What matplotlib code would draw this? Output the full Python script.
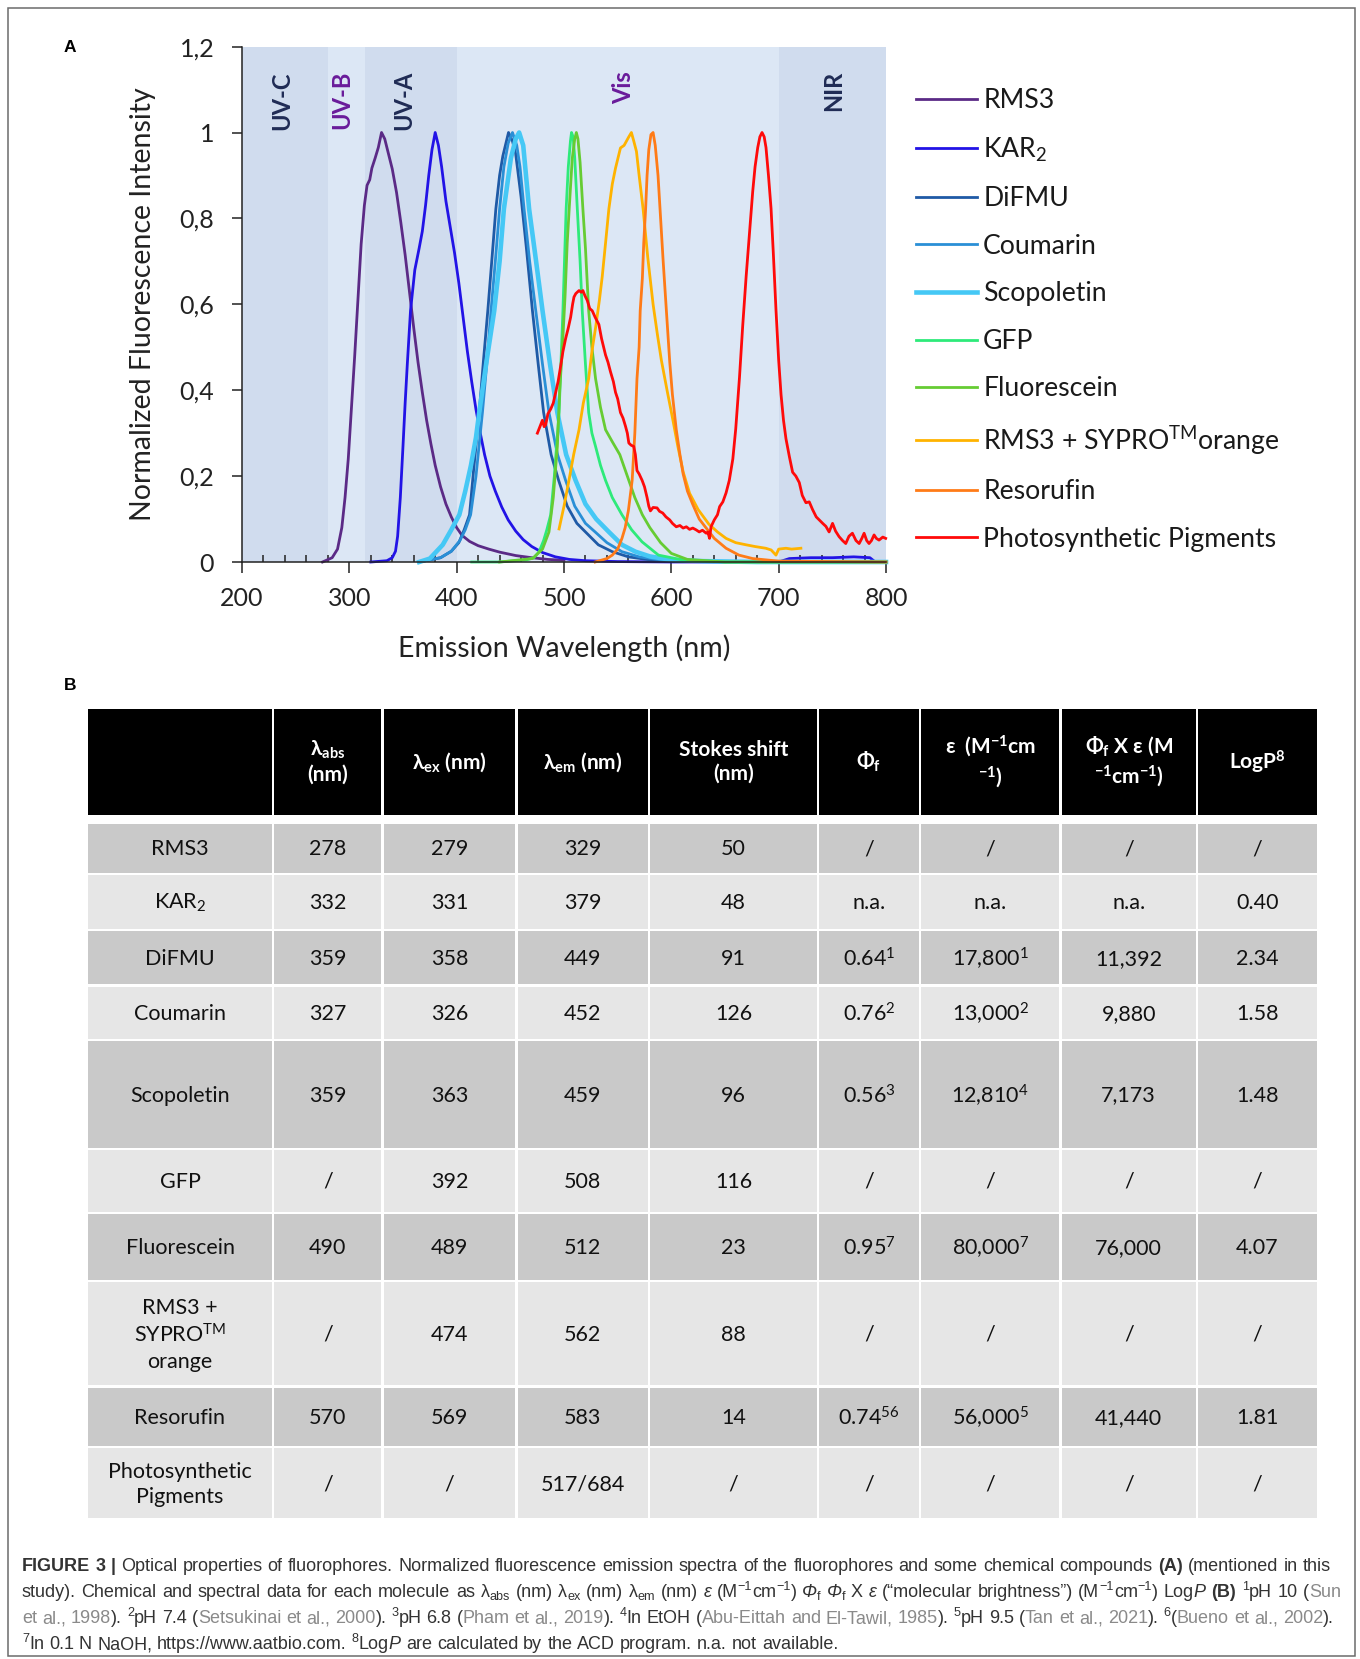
import matplotlib
matplotlib.use("Agg")
import matplotlib.pyplot as plt
from matplotlib.patches import Rectangle
from matplotlib.ticker import MultipleLocator

plt.rcParams['font.family'] = ['Lato', 'DejaVu Sans']
plt.rcParams['mathtext.fontset'] = 'custom'
plt.rcParams['mathtext.rm'] = 'Lato'
plt.rcParams['mathtext.it'] = 'Lato:italic'
plt.rcParams['mathtext.bf'] = 'Lato:bold'
plt.rcParams['mathtext.fallback'] = 'stixsans'

# ---------------- panel A data ----------------
rms3_nm = [275, 284, 289, 293, 296, 299, 302, 305, 308, 311, 314, 316.5, 319, 321, 324, 327, 330, 333, 336,
           340, 344, 348, 352, 356, 360, 364, 368, 372, 376, 380, 385, 390, 395, 400, 405, 412, 420, 430,
           440, 455, 470, 485, 500]
rms3_int = [0.0, 0.01, 0.03, 0.08, 0.15, 0.24, 0.36, 0.48, 0.61, 0.74, 0.83, 0.877, 0.89, 0.917, 0.94, 0.965,
            1.0, 0.985, 0.955, 0.915, 0.86, 0.79, 0.715, 0.63, 0.545, 0.465, 0.395, 0.33, 0.275, 0.225, 0.175,
            0.135, 0.105, 0.08, 0.062, 0.048, 0.038, 0.03, 0.023, 0.015, 0.01, 0.006, 0.004]

kar2_nm = [320, 335, 340, 343, 345, 347.5, 350, 352, 354, 357, 361, 365, 368, 371, 374, 377, 380, 383, 386,
           390, 394, 398, 402, 406, 410, 414, 418, 422, 426, 431, 436, 442, 448, 455, 462, 470, 480, 492,
           505, 520, 550, 600, 650, 700, 710, 730, 750, 770, 785, 790]
kar2_int = [0.0, 0.003, 0.01, 0.025, 0.06, 0.15, 0.27, 0.37, 0.46, 0.585, 0.68, 0.73, 0.77, 0.83, 0.9, 0.96,
            1.0, 0.97, 0.92, 0.84, 0.78, 0.72, 0.65, 0.57, 0.49, 0.42, 0.355, 0.3, 0.25, 0.2, 0.165, 0.128,
            0.098, 0.072, 0.052, 0.036, 0.022, 0.012, 0.006, 0.003, 0.001, 0.0, 0.0, 0.0, 0.008, 0.01, 0.01,
            0.012, 0.01, 0.0]

difmu_nm = [365, 385, 395, 402, 407, 412, 416, 421, 425, 429, 433, 436.5, 440, 443, 448.3, 452, 455, 460,
            465, 470.6, 476, 481, 488, 495, 503, 512, 520, 532, 545, 560, 580, 610, 650, 700, 800]
difmu_int = [0.0, 0.01, 0.025, 0.045, 0.075, 0.11, 0.22, 0.348, 0.47, 0.585, 0.71, 0.822, 0.9, 0.945, 1.0,
             0.98, 0.95, 0.85, 0.73, 0.585, 0.46, 0.348, 0.25, 0.19, 0.13, 0.09, 0.07, 0.04, 0.024, 0.012,
             0.005, 0.002, 0.0, 0.0, 0.0]

coum_nm = [365, 385, 395, 403, 408, 413, 418, 424, 428, 432, 436, 440, 444, 448, 452, 456, 459, 462.8, 468,
           473.7, 480, 486, 494, 501.5, 510, 520, 529, 540, 554, 570, 590, 620, 660, 720, 800]
coum_int = [0.0, 0.01, 0.025, 0.05, 0.075, 0.11, 0.2, 0.348, 0.46, 0.585, 0.7, 0.822, 0.92, 0.975, 1.0, 0.97,
            0.92, 0.822, 0.7, 0.585, 0.46, 0.348, 0.25, 0.19, 0.13, 0.09, 0.07, 0.045, 0.024, 0.012, 0.005,
            0.002, 0.0, 0.0, 0.0]

scop_nm = [365, 375, 387, 395, 402.5, 408, 413.3, 418, 421, 428, 435, 440, 444, 450.5, 455, 458.2, 462, 467.5,
           474, 480, 487, 493.8, 502, 510.8, 520, 530, 541.8, 554, 566.6, 580, 600, 630, 680, 750, 800]
scop_int = [0.0, 0.008, 0.04, 0.075, 0.11, 0.165, 0.225, 0.29, 0.348, 0.47, 0.585, 0.7, 0.822, 0.94, 0.985,
            1.0, 0.97, 0.822, 0.7, 0.585, 0.46, 0.348, 0.25, 0.19, 0.135, 0.1, 0.07, 0.04, 0.024, 0.013,
            0.005, 0.002, 0.0, 0.0, 0.0]

gfp_nm = [414, 440, 465, 472, 476.8, 481, 484, 487.6, 491, 495.4, 499, 502, 504, 506, 507, 508.5, 510, 512.4,
          515, 517, 520, 523, 526, 529.4, 534, 538.7, 545, 554, 563, 572.7, 588, 610, 650, 700, 800]
gfp_int = [0.0, 0.0, 0.005, 0.01, 0.024, 0.05, 0.075, 0.11, 0.2, 0.348, 0.585, 0.822, 0.92, 0.98, 1.0, 0.99,
           0.94, 0.822, 0.7, 0.585, 0.46, 0.348, 0.3, 0.269, 0.225, 0.19, 0.15, 0.11, 0.075, 0.047, 0.016,
           0.005, 0.0, 0.0, 0.0]

fluo_nm = [440, 470.6, 480, 486, 490, 493.8, 496, 498.5, 501, 503, 505.5, 507.7, 510, 511.5, 513, 515, 517.6,
           520, 523, 526, 529.4, 534, 538.7, 545, 552, 559, 566, 573, 580, 590, 600, 615, 650, 700, 800]
fluo_int = [0.0, 0.008, 0.03, 0.07, 0.15, 0.269, 0.4, 0.5, 0.62, 0.743, 0.85, 0.94, 0.985, 1.0, 0.985, 0.93,
            0.822, 0.73, 0.585, 0.5, 0.427, 0.36, 0.308, 0.28, 0.25, 0.2, 0.15, 0.11, 0.08, 0.045, 0.02,
            0.006, 0.0, 0.0, 0.0]

sypro_nm = [495.4, 500, 504.6, 509, 514, 518, 523, 526, 529.4, 533, 535.6, 539, 541.8, 545, 548, 552.6, 556,
            560.4, 562.8, 565, 567.5, 570, 573.7, 578, 583, 587, 590.7, 596, 601.5, 606, 611, 617, 625, 635,
            643, 651, 660, 669.7, 678, 688, 693, 697.5, 700, 706.8, 712, 720.7]
sypro_int = [0.077, 0.13, 0.19, 0.25, 0.308, 0.37, 0.427, 0.49, 0.545, 0.61, 0.664, 0.75, 0.822, 0.88, 0.917,
             0.964, 0.97, 0.99, 1.0, 0.98, 0.956, 0.9, 0.822, 0.71, 0.6, 0.53, 0.47, 0.4, 0.33, 0.27, 0.21,
             0.16, 0.122, 0.088, 0.07, 0.055, 0.045, 0.04, 0.036, 0.032, 0.028, 0.016, 0.03, 0.032, 0.03, 0.032]

reso_nm = [529, 540, 545, 550, 554, 557, 560, 563.5, 566, 568, 570, 571, 573, 574.3, 576, 577.4, 579, 581,
           583, 585, 587.6, 590, 592.3, 595, 598.5, 601, 604.6, 608, 611, 615, 620, 626, 632.5, 640, 651,
           663, 675.8, 700, 800]
reso_int = [0.0, 0.008, 0.016, 0.03, 0.055, 0.08, 0.12, 0.19, 0.3, 0.427, 0.5, 0.585, 0.66, 0.743, 0.82, 0.9,
            0.96, 0.995, 1.0, 0.97, 0.9, 0.8, 0.704, 0.6, 0.466, 0.39, 0.308, 0.25, 0.205, 0.165, 0.134, 0.1,
            0.079, 0.055, 0.032, 0.016, 0.008, 0.002, 0.0]

pig_nm = [475.2, 477.5, 479.9, 481.5, 483, 485, 487.6, 490, 492.3, 494.5, 497, 499, 501.5, 504, 506.2, 508,
          509.3, 511, 514, 516, 517.6, 519.5, 521.7, 524, 526.3, 529, 532.5, 535, 538.7, 541, 543.3, 546, 548,
          550, 552.6, 555, 557.3, 559, 560.4, 562.5, 565, 566.5, 568, 570, 572.8, 575, 577.4, 579, 580.5, 583,
          586.7, 589, 592, 595, 598.5, 601, 604.6, 608, 611, 614, 617, 620, 623, 626, 629, 632.5, 634, 635.6,
          637, 640, 643, 645, 648, 651, 654, 657.3, 660, 663.5, 666.5, 669.7, 673, 675.8, 678, 680.5, 682.5,
          684.5, 686.5, 688.2, 690.5, 692.9, 695, 697.5, 700, 702.2, 704.5, 706.8, 710, 713, 716, 719.2, 722,
          725.4, 728.5, 731.6, 735, 737.8, 741, 744, 747, 750.2, 753, 756.3, 759.5, 762.5, 765.5, 768.7, 772,
          775, 777.5, 779.6, 782, 784.2, 786.5, 788.9, 791, 793.5, 797, 799.7]
pig_int = [0.30, 0.315, 0.33, 0.315, 0.32, 0.345, 0.356, 0.37, 0.395, 0.42, 0.458, 0.49, 0.52, 0.545, 0.57,
           0.60, 0.617, 0.625, 0.632, 0.628, 0.632, 0.62, 0.609, 0.59, 0.585, 0.57, 0.553, 0.52, 0.482, 0.465,
           0.443, 0.42, 0.395, 0.38, 0.348, 0.335, 0.316, 0.30, 0.277, 0.272, 0.269, 0.25, 0.213, 0.205, 0.19,
           0.175, 0.15, 0.13, 0.119, 0.127, 0.126, 0.118, 0.114, 0.105, 0.098, 0.09, 0.082, 0.085, 0.079,
           0.082, 0.076, 0.079, 0.075, 0.07, 0.074, 0.067, 0.07, 0.055, 0.082, 0.098, 0.11, 0.129, 0.14, 0.161,
           0.19, 0.24, 0.31, 0.43, 0.55, 0.665, 0.77, 0.862, 0.92, 0.965, 0.99, 1.0, 0.99, 0.965, 0.9, 0.823,
           0.72, 0.587, 0.47, 0.39, 0.33, 0.287, 0.245, 0.209, 0.2, 0.185, 0.155, 0.138, 0.14, 0.122, 0.105,
           0.098, 0.09, 0.083, 0.07, 0.09, 0.072, 0.059, 0.05, 0.043, 0.06, 0.067, 0.05, 0.043, 0.055, 0.067,
           0.05, 0.043, 0.05, 0.063, 0.055, 0.051, 0.058, 0.055]

series_names = ["RMS3", "KAR$_2$", "DiFMU", "Coumarin", "Scopoletin", "GFP", "Fluorescein",
                "RMS3 + SYPRO$^{\\mathrm{TM}}$orange", "Resorufin", "Photosynthetic Pigments"]
series_x = [rms3_nm, kar2_nm, difmu_nm, coum_nm, scop_nm, gfp_nm, fluo_nm, sypro_nm, reso_nm, pig_nm]
series_y = [rms3_int, kar2_int, difmu_int, coum_int, scop_int, gfp_int, fluo_int, sypro_int, reso_int, pig_int]
series_colors = ["#5B2A86", "#2213E6", "#1F5AA6", "#2A8FD6", "#45C8F5", "#2EEA7A", "#66CC33",
                 "#FFB300", "#FF7B17", "#FF0A0A"]
series_lw = [2.0, 2.0, 2.0, 2.0, 3.3, 2.0, 2.0, 2.0, 2.0, 2.0]

band_edges = [200, 280, 315, 400, 700, 800]
band_colors = ["#D0DCEE", "#DCE7F5", "#D0DCEE", "#DCE7F5", "#D0DCEE"]
band_names = ["UV-C", "UV-B", "UV-A", "Vis", "NIR"]
band_label_x = [237, 293, 351, 556, 751]
band_label_colors = ["#1F2B55", "#6A1B9A", "#1F2B55", "#6A1B9A", "#1F2B55"]

ytick_vals = [0, 0.2, 0.4, 0.6, 0.8, 1.0, 1.2]
ytick_text = ["0", "0,2", "0,4", "0,6", "0,8", "1", "1,2"]

# ---------------- panel B data ----------------
head_labels = ["",
               r"$\mathbf{\lambda}_{\mathbf{abs}}$" + "\n(nm)",
               r"$\mathbf{\lambda}_{\mathbf{ex}}$ (nm)",
               r"$\mathbf{\lambda}_{\mathbf{em}}$ (nm)",
               "Stokes shift\n(nm)",
               r"$\mathbf{\Phi}_{\mathbf{f}}$",
               r"$\mathbf{\varepsilon}$  (M$^{\mathbf{-1}}$cm" + "\n" + r"$^{\mathbf{-1}}$)",
               r"$\mathbf{\Phi}_{\mathbf{f}}$ X $\mathbf{\varepsilon}$ (M" + "\n" + r"$^{\mathbf{-1}}$cm$^{\mathbf{-1}}$)",
               r"Log$\mathbf{P}^{\mathbf{8}}$"]
row_names = ["RMS3", "KAR$_2$", "DiFMU", "Coumarin", "Scopoletin", "GFP", "Fluorescein",
             "RMS3 +\nSYPRO$^{\\mathrm{TM}}$\norange", "Resorufin", "Photosynthetic\nPigments"]
lam_abs = ["278", "332", "359", "327", "359", "/", "490", "/", "570", "/"]
lam_ex = ["279", "331", "358", "326", "363", "392", "489", "474", "569", "/"]
lam_em = ["329", "379", "449", "452", "459", "508", "512", "562", "583", "517/684"]
stokes = ["50", "48", "91", "126", "96", "116", "23", "88", "14", "/"]
phi_f = ["/", "n.a.", "0.64$^{1}$", "0.76$^{2}$", "0.56$^{3}$", "/", "0.95$^{7}$", "/", "0.74$^{56}$", "/"]
epsilon = ["/", "n.a.", "17,800$^{1}$", "13,000$^{2}$", "12,810$^{4}$", "/", "80,000$^{7}$", "/",
           "56,000$^{5}$", "/"]
brightness = ["/", "n.a.", "11,392", "9,880", "7,173", "/", "76,000", "/", "41,440", "/"]
log_p = ["/", "0.40", "2.34", "1.58", "1.48", "/", "4.07", "/", "1.81", "/"]
table_cols = [row_names, lam_abs, lam_ex, lam_em, stokes, phi_f, epsilon, brightness, log_p]

caption_lines = [
    [("FIGURE 3 |", "b"), (" Optical properties of fluorophores. Normalized fluorescence emission spectra of the "
      "fluorophores and some chemical compounds ", "n"), ("(A)", "b"), (" (mentioned in this", "n")],
    [("study). Chemical and spectral data for each molecule as λ", "n"), ("abs", "d"), (" (nm) λ", "n"),
     ("ex", "d"), (" (nm) λ", "n"), ("em", "d"), (" (nm) ", "n"), ("ε", "i"), (" (M", "n"), ("−1", "u"),
     ("cm", "n"), ("−1", "u"), (") ", "n"), ("Φ", "i"), ("f", "d"), (" ", "n"), ("Φ", "i"), ("f", "d"),
     (" X ", "n"), ("ε", "i"), (" (“molecular brightness”) (M", "n"), ("−1", "u"), ("cm", "n"), ("−1", "u"),
     (") Log", "n"), ("P", "i"), (" ", "n"), ("(B)", "b"), (" ", "n"), ("1", "u"), ("pH 10 (", "n"),
     ("Sun", "g")],
    [("et al., 1998", "g"), ("). ", "n"), ("2", "u"), ("pH 7.4 (", "n"), ("Setsukinai et al., 2000", "g"),
     ("). ", "n"), ("3", "u"), ("pH 6.8 (", "n"), ("Pham et al., 2019", "g"), ("). ", "n"), ("4", "u"),
     ("In EtOH (", "n"), ("Abu-Eittah and El-Tawil, 1985", "g"), ("). ", "n"), ("5", "u"), ("pH 9.5 (", "n"),
     ("Tan et al., 2021", "g"), ("). ", "n"), ("6", "u"), ("(", "n"), ("Bueno et al., 2002", "g"), (").", "n")],
    [("7", "u"), ("In 0.1 N NaOH, https://www.aatbio.com. ", "n"), ("8", "u"), ("Log", "n"), ("P", "i"),
     (" are calculated by the ACD program. n.a. not available.", "n")],
]

# ---------------- figure ----------------
W, H = 1360, 1659
fig = plt.figure(figsize=(W / 100, H / 100), dpi=100)

# pixel-coordinate overlay for frame, table and caption
ax0 = fig.add_axes([0, 0, 1, 1], zorder=0)
ax0.set_xlim(0, W)
ax0.set_ylim(H, 0)
ax0.axis('off')

ax0.add_patch(Rectangle((8, 8), 1347, 1648, fill=False, edgecolor="#6B6B6B", lw=1.1))
ax0.text(70, 47, "A", family="Liberation Sans", fontweight="bold", fontsize=12.5, ha="center", va="center")
ax0.text(70, 686, "B", family="Liberation Sans", fontweight="bold", fontsize=12.5, ha="center", va="center")

# ---- panel A ----
ax = fig.add_axes([242 / W, 1 - 562 / H, 644 / W, 515.4 / H], zorder=2)
ax.patch.set_visible(False)
for i in range(len(band_names)):
    ax.axvspan(band_edges[i], band_edges[i + 1], color=band_colors[i], lw=0, zorder=0)
    ax.text(band_label_x[i], 1.143, band_names[i], rotation=90, ha="center", va="top",
            fontsize=17, fontweight="bold", color=band_label_colors[i], zorder=1)

lines = []
for xs, ys, c, lw, name in zip(series_x, series_y, series_colors, series_lw, series_names):
    ln, = ax.plot(xs, ys, color=c, lw=lw, label=name, clip_on=False, zorder=3, solid_joinstyle="round")
    lines.append(ln)

ax.set_xlim(200, 800)
ax.set_ylim(0, 1.2)
ax.set_xticks(range(200, 801, 100))
ax.xaxis.set_minor_locator(MultipleLocator(20))
ax.set_yticks(ytick_vals)
ax.set_yticklabels(ytick_text)
ax.tick_params(axis="x", which="major", direction="out", length=8, width=1.1, pad=10, labelsize=18,
               colors="#222222")
ax.tick_params(axis="x", which="minor", direction="in", length=5, width=1.1, colors="#222222")
ax.tick_params(axis="y", direction="out", length=7, width=1.1, pad=13, labelsize=18, colors="#222222")
for s in ["top", "right"]:
    ax.spines[s].set_visible(False)
for s in ["left", "bottom"]:
    ax.spines[s].set_color("#222222")
    ax.spines[s].set_linewidth(1.1)
    ax.spines[s].set_zorder(4)

ax.set_xlabel("Emission Wavelength (nm)", fontsize=20.5, color="#222222")
ax.set_ylabel("Normalized Fluorescence Intensity", fontsize=20.5, color="#222222")
ax.xaxis.set_label_coords(0.5, -0.167)
ax.xaxis.label.set_va("center")
ax.yaxis.set_label_coords(-0.154, 0.5)
ax.yaxis.label.set_va("center")

fig.legend(handles=lines, labels=series_names, loc="upper left",
           bbox_to_anchor=(916 / W, 1 - 88 / H), bbox_transform=fig.transFigure,
           frameon=False, fontsize=19.2, handlelength=2.3, handletextpad=0.22, labelspacing=0.845,
           borderpad=0, borderaxespad=0, labelcolor="#1A1A1A")

# ---- panel B: table ----
col_edges = [87, 273, 382.5, 516.5, 649, 818, 920, 1060.5, 1197, 1318]
head_top, head_bot = 709, 815
row_edges = [822.5, 874, 930, 985.5, 1040, 1149, 1213, 1281, 1386.5, 1447, 1519.5]
row_colors = ["#C9C9C9", "#E6E6E6"]
g = 1.3

for j in range(len(col_edges) - 1):
    x0, x1 = col_edges[j] + g, col_edges[j + 1] - g
    ax0.add_patch(Rectangle((x0, head_top), x1 - x0, head_bot - head_top, color="black", lw=0))
    ax0.text((x0 + x1) / 2, (head_top + head_bot) / 2, head_labels[j], ha="center", va="center",
             color="white", fontsize=15, fontweight="bold", linespacing=1.25)
    for i in range(len(row_names)):
        y0, y1 = row_edges[i] + g, row_edges[i + 1] - g
        ax0.add_patch(Rectangle((x0, y0), x1 - x0, y1 - y0, color=row_colors[i % 2], lw=0))
        ax0.text((x0 + x1) / 2, (y0 + y1) / 2 + 1, table_cols[j][i], ha="center", va="center",
                 color="#111111", fontsize=15.5, linespacing=1.3)

# ---- caption ----
CAP_FONT = "Liberation Sans"
CAP_SIZE = 13.0
renderer = fig.canvas.get_renderer()


def seg_props(style):
    p = dict(family=CAP_FONT, fontsize=CAP_SIZE, color="#333333")
    dy = 0
    if "b" in style:
        p["fontweight"] = "bold"
    if "i" in style:
        p["fontstyle"] = "italic"
    if "g" in style:
        p["color"] = "#8A8A8A"
    if "u" in style:
        p["fontsize"] = CAP_SIZE * 0.7
        dy = -6.5
    if "d" in style:
        p["fontsize"] = CAP_SIZE * 0.7
        dy = 3
    return p, dy


def text_width(s, props):
    t = ax0.text(0, 0, "|" + s + "|", **props)
    w = t.get_window_extent(renderer).width
    t.set_text("||")
    w2 = t.get_window_extent(renderer).width
    t.remove()
    return w - w2


def rich_line(x0, y, segs, right=None):
    items = []
    for txt, st in segs:
        parts = txt.split(" ")
        for k, part in enumerate(parts):
            if k > 0:
                items.append((None, st))
            if part:
                items.append((part, st))
    widths, nspace = [], 0
    for txt, st in items:
        p, dy = seg_props(st)
        if txt is None:
            widths.append(text_width(" ", p))
            nspace += 1
        else:
            widths.append(text_width(txt, p))
    extra = 0
    if right is not None and nspace:
        extra = (right - x0 - sum(widths)) / nspace
    x = x0
    for (txt, st), w in zip(items, widths):
        p, dy = seg_props(st)
        if txt is None:
            x += w + extra
        else:
            ax0.text(x, y + dy, txt, ha="left", va="baseline", **p)
            x += w


cap_baselines = [1571, 1597, 1623, 1649]
cap_right = [1331, 1341, 1334, None]
for segs, yb, r in zip(caption_lines, cap_baselines, cap_right):
    rich_line(22, yb, segs, r)

fig.savefig("out.png", dpi=100)
